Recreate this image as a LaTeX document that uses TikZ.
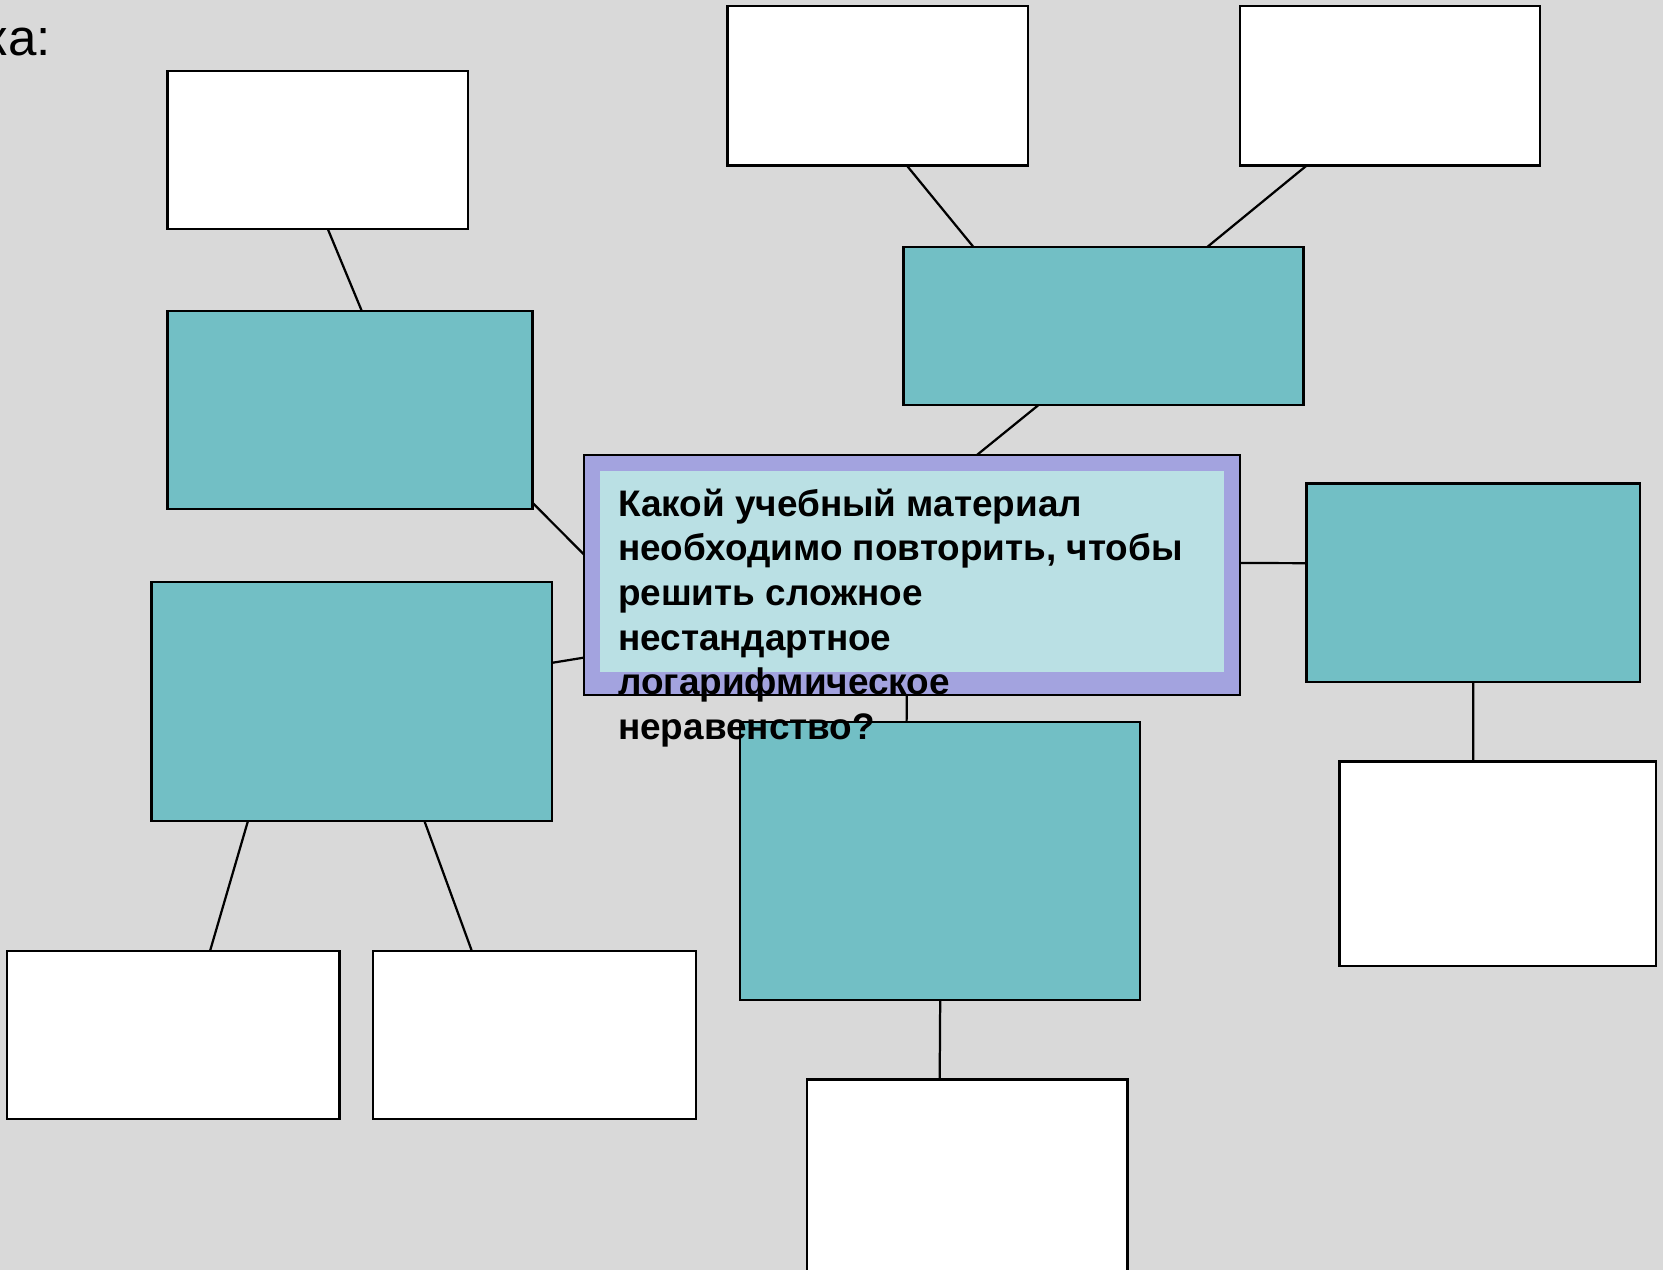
\documentclass[tikz,border=0pt]{standalone}
\usepackage{fontspec}
\setmainfont{Liberation Sans}
\usetikzlibrary{calc}
\definecolor{bggray}{RGB}{217,217,217}
\definecolor{tealbox}{RGB}{114,191,197}
\definecolor{lilac}{RGB}{163,163,223}
\definecolor{paleblue}{RGB}{186,224,228}

\begin{document}
\begin{tikzpicture}[
  x=0.01cm, y=0.01cm,
  every node/.style = {inner sep=0pt, outer sep=0pt},
  wbox/.style = {rectangle, draw=black, fill=white, line width=0.6pt},
  tbox/.style = {rectangle, draw=black, fill=tealbox, line width=0.6pt},
  con/.style = {draw=black, line width=0.6pt},
  qtxt/.style = {font=\fontsize{9.9pt}{11.95pt}\selectfont\bfseries, align=left}
]

% ---- PAGE ----
\fill[bggray] (0,0) rectangle (1568,-1197);
\useasboundingbox (0,0) rectangle (1568,-1197);
\node[anchor=base east, font=\fontsize{13.7pt}{16pt}\selectfont] (head) at (48,-52) {ка:};

% ---- CENTRE ----
\node[rectangle, draw=black, fill=lilac, line width=0.6pt,
      minimum width=6.18cm, minimum height=2.26cm] (q) at (860,-542) {};
\node[rectangle, fill=paleblue, minimum width=5.88cm, minimum height=1.90cm] (qin) at (860,-539) {};

% ---- LEFT ----
\node[wbox, minimum width=2.83cm, minimum height=1.49cm] (w1) at (299.5,-141.5) {};
\node[tbox, minimum width=3.44cm, minimum height=1.87cm] (t1) at (330,-386.5) {};
\node[tbox, minimum width=3.77cm, minimum height=2.25cm] (t2) at (331.5,-661.5) {};
\node[wbox, minimum width=3.13cm, minimum height=1.58cm] (w2) at (163.5,-976) {};
\node[wbox, minimum width=3.04cm, minimum height=1.58cm] (w3) at (504,-976) {};

% ---- TOP ----
\node[wbox, minimum width=2.83cm, minimum height=1.50cm] (w4) at (827.5,-81) {};
\node[wbox, minimum width=2.83cm, minimum height=1.50cm] (w5) at (1310.5,-81) {};
\node[tbox, minimum width=3.77cm, minimum height=1.49cm] (t3) at (1040.5,-307.5) {};

% ---- RIGHT ----
\node[tbox, minimum width=3.14cm, minimum height=1.87cm] (t4) at (1389,-549.5) {};
\node[wbox, minimum width=2.98cm, minimum height=1.93cm] (w6) at (1412,-814.5) {};

% ---- BOTTOM ----
\node[tbox, minimum width=3.77cm, minimum height=2.62cm] (t5) at (886.5,-812) {};
\node[wbox, minimum width=3.02cm, minimum height=1.97cm] (w7) at (912,-1116.5) {};

% ---- CONNECTORS ----
\draw[con] ($(w1.south west)!0.534!(w1.south east)$) -- ($(t1.north west)!0.532!(t1.north east)$);
\draw[con] ($(t1.north east)!0.968!(t1.south east)$) -- ($(q.north west)!0.416!(q.south west)$);
\draw[con] ($(t2.north east)!0.338!(t2.south east)$) -- ($(q.north west)!0.845!(q.south west)$);
\draw[con] ($(t2.south west)!0.241!(t2.south east)$) -- ($(w2.north west)!0.610!(w2.north east)$);
\draw[con] ($(t2.south west)!0.682!(t2.south east)$) -- ($(w3.north west)!0.306!(w3.north east)$);
\draw[con] ($(w4.south west)!0.597!(w4.south east)$) -- ($(t3.north west)!0.175!(t3.north east)$);
\draw[con] ($(w5.south west)!0.223!(w5.south east)$) -- ($(t3.north west)!0.759!(t3.north east)$);
\draw[con] ($(t3.south west)!0.337!(t3.south east)$) -- ($(q.north west)!0.599!(q.north east)$);
\draw[con] ($(q.north east)!0.451!(q.south east)$) -- ($(t4.north west)!0.401!(t4.south west)$);
\draw[con] (t4.south) -- ($(w6.north west)!0.423!(w6.north east)$);
\draw[con] ($(q.south west)!0.492!(q.south east)$) -- ($(t5.north west)!0.416!(t5.north east)$);
\draw[con] (t5.south) -- ($(w7.north west)!0.414!(w7.north east)$);

% ---- QUESTION TEXT ----
\node[qtxt, anchor=north west] (qtext) at ($(qin.north west)+(17,-17)$)
  {Какой учебный материал\\необходимо повторить, чтобы\\решить сложное\\нестандартное\\логарифмическое\\неравенство?};

\end{tikzpicture}
\end{document}
